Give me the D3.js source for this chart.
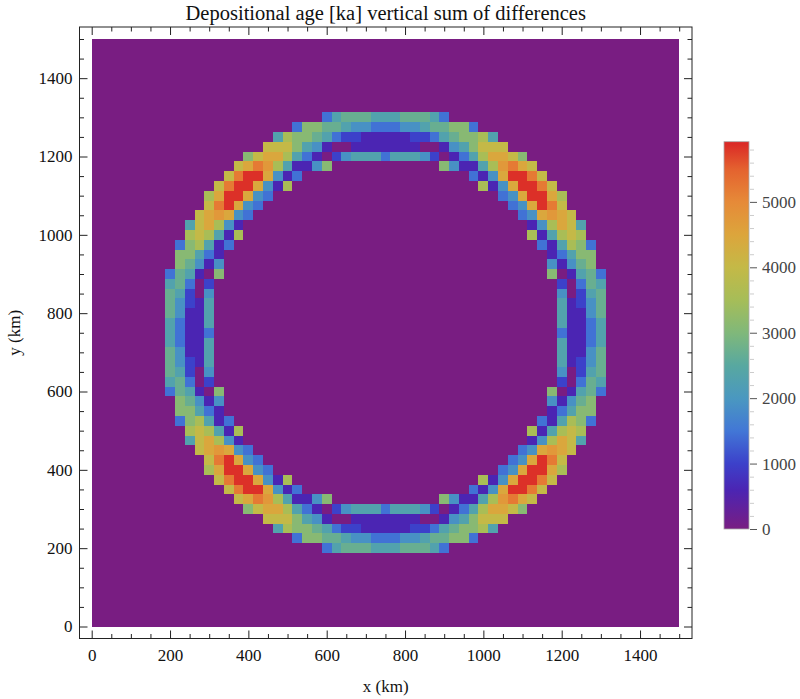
<!DOCTYPE html>
<html>
<head>
<meta charset="utf-8">
<script src="https://cdn.jsdelivr.net/npm/d3@7/dist/d3.min.js"></script>
<style>
  html, body { margin: 0; padding: 0; background: #fff; }
  svg { display: block; }
  text { font-family: "Liberation Serif", "Times New Roman", Times, serif; }
</style>
</head>
<body>
<svg id="chart" width="800" height="699"></svg>
<script>
// ---------------- data ----------------
const chartTitle = "Depositional age [ka] vertical sum of differences";
const xLabel = "x (km)";
const yLabel = "y (km)";
const xTickValues = [0, 200, 400, 600, 800, 1000, 1200, 1400];
const yTickValues = [0, 200, 400, 600, 800, 1000, 1200, 1400];
const colorTickValues = [0, 1000, 2000, 3000, 4000, 5000];
const extentKm = [0, 1500];
const nodeSpacingKm = 25;      // grid nodes every 25 km, 0..1500
const nodeCount = 61;
const ageMaxKa = 5920;

// value classes used in the rows below (ka)
const ageCodes      = [".", "1", "2", "3", "4", "5", "6", "7", "8", "9", "a", "b", "c", "d"];
const ageCodeValues = [0, 600, 1000, 1450, 1900, 2300, 2700, 3100, 3550, 4000, 4450, 4750, 5200, 5850];

// [row node index j, [first column node index i, codes], ...]; unlisted nodes are 0
const ageRows = [
  [52, [24, "3566655566653"]],
  [51, [21, "3776654433344566773"]],
  [50, [19, "58776532211111223567785"]],
  [49, [18, "9997541..1111111..1457999"]],
  [48, [16, "79aa8531.24555355542.1358aa97"]],
  [47, [15, "9acb851147"], [36, "741158bca9"]],
  [46, [14, "9cdda413"], [39, "314addc9"]],
  [45, [13, "9cdda418"], [40, "814addc9"]],
  [44, [12, "8adda43"], [42, "34adda8"]],
  [43, [12, "9cda43"], [43, "34adc9"]],
  [42, [11, "9aba43"], [44, "34aba9"]],
  [41, [10, "59a841"], [45, "148a95"]],
  [40, [10, "898518"], [45, "815898"]],
  [39, [9, "378513"], [46, "315873"]],
  [38, [9, "77531"], [47, "13577"]],
  [37, [9, "76414"], [47, "41467"]],
  [36, [8, "3651.7"], [47, "7.1563"]],
  [35, [8, "563.2"], [48, "2.365"]],
  [34, [8, "652.4"], [48, "4.256"]],
  [33, [8, "64215"], [48, "51246"]],
  [32, [8, "64115"], [48, "51146"]],
  [31, [8, "53115"], [48, "51135"]],
  [30, [8, "53113"], [48, "31135"]],
  [29, [8, "53115"], [48, "51135"]],
  [28, [8, "64115"], [48, "51146"]],
  [27, [8, "64215"], [48, "51246"]],
  [26, [8, "652.4"], [48, "4.256"]],
  [25, [8, "563.2"], [48, "2.365"]],
  [24, [8, "3651.7"], [47, "7.1563"]],
  [23, [9, "76414"], [47, "41467"]],
  [22, [9, "77531"], [47, "13577"]],
  [21, [9, "378513"], [46, "315873"]],
  [20, [10, "898518"], [45, "815898"]],
  [19, [10, "59a841"], [45, "148a95"]],
  [18, [11, "9aba43"], [44, "34aba9"]],
  [17, [12, "9cda43"], [43, "34adc9"]],
  [16, [12, "8adda43"], [42, "34adda8"]],
  [15, [13, "9cdda418"], [40, "814addc9"]],
  [14, [14, "9cdda413"], [39, "314addc9"]],
  [13, [15, "9acb851147"], [36, "741158bca9"]],
  [12, [16, "79aa8531.24555355542.1358aa97"]],
  [11, [18, "9997541..1111111..1457999"]],
  [10, [19, "58776532211111223567785"]],
  [9,  [21, "3776654433344566773"]],
  [8,  [24, "3566655566653"]]
];

// colour ramp (ka -> colour)
const rampValues = [0, 600, 1000, 1500, 2000, 2500, 3000, 3500, 4000, 4500, 5000, 5500, 5920];
const rampColors = ["#791d82", "#4b25b3", "#3c41ca", "#4277d6", "#4a98c0", "#58a8a0", "#80b87a",
                    "#a6bd58", "#c4b947", "#dca53c", "#e68a38", "#e4622f", "#da2626"];

// ---------------- layout ----------------
const svg = d3.select("#chart");
const frame = { left: 79.5, right: 692, top: 27, bottom: 638.5 };
const plot = { left: 91.7, right: 679.2, top: 39, bottom: 626.5 };
const bar = { left: 724, width: 25, top: 141.7, bottom: 529 };

const x = d3.scaleLinear().domain(extentKm).range([plot.left, plot.right]);
const y = d3.scaleLinear().domain(extentKm).range([plot.bottom, plot.top]);
const color = d3.scaleLinear().domain(rampValues).range(rampColors).interpolate(d3.interpolateRgb).clamp(true);

// ---------------- grid ----------------
const codeValue = new Map(ageCodes.map((c, k) => [c, ageCodeValues[k]]));
const grid = [];
for (let j = 0; j < nodeCount; j++)
  for (let i = 0; i < nodeCount; i++) grid.push({ i, j, v: 0 });
ageRows.forEach(([j, ...segments]) => {
  segments.forEach(([start, codes]) => {
    [...codes].forEach((c, k) => { grid[j * nodeCount + start + k].v = codeValue.get(c); });
  });
});

const half = nodeSpacingKm / 2;
const lo = v => Math.max(extentKm[0], v - half);
const hi = v => Math.min(extentKm[1], v + half);

svg.append("g")
  .attr("shape-rendering", "crispEdges")
  .selectAll("rect")
  .data(grid)
  .join("rect")
  .attr("x", d => x(lo(d.i * nodeSpacingKm)))
  .attr("width", d => x(hi(d.i * nodeSpacingKm)) - x(lo(d.i * nodeSpacingKm)))
  .attr("y", d => y(hi(d.j * nodeSpacingKm)))
  .attr("height", d => y(lo(d.j * nodeSpacingKm)) - y(hi(d.j * nodeSpacingKm)))
  .attr("fill", d => color(d.v));

// ---------------- frame & ticks ----------------
const minorKm = d3.range(0, 1501, 50).filter(v => v % 200 !== 0);
const majorLen = 8, minorLen = 4.5;

function styleAxis(g) {
  g.select(".domain").remove();
  g.selectAll(".tick line").attr("stroke", "#222").attr("stroke-width", 1);
  g.selectAll(".tick text").attr("fill", "#111").style("font-size", "17px")
    .style("font-family", "'Liberation Serif', 'Times New Roman', serif");
}

// bottom
svg.append("g").attr("transform", `translate(0,${frame.bottom})`)
  .call(d3.axisBottom(x).tickValues(xTickValues).tickSize(-majorLen).tickPadding(10).tickFormat(d3.format("d")))
  .call(styleAxis);
svg.append("g").attr("transform", `translate(0,${frame.bottom})`)
  .call(d3.axisBottom(x).tickValues(minorKm).tickSize(-minorLen).tickFormat(""))
  .call(styleAxis);
// top
svg.append("g").attr("transform", `translate(0,${frame.top})`)
  .call(d3.axisTop(x).tickValues(xTickValues).tickSize(-majorLen).tickFormat(""))
  .call(styleAxis);
svg.append("g").attr("transform", `translate(0,${frame.top})`)
  .call(d3.axisTop(x).tickValues(minorKm).tickSize(-minorLen).tickFormat(""))
  .call(styleAxis);
// left
svg.append("g").attr("transform", `translate(${frame.left},0)`)
  .call(d3.axisLeft(y).tickValues(yTickValues).tickSize(-majorLen).tickPadding(7).tickFormat(d3.format("d")))
  .call(styleAxis);
svg.append("g").attr("transform", `translate(${frame.left},0)`)
  .call(d3.axisLeft(y).tickValues(minorKm).tickSize(-minorLen).tickFormat(""))
  .call(styleAxis);
// right
svg.append("g").attr("transform", `translate(${frame.right},0)`)
  .call(d3.axisRight(y).tickValues(yTickValues).tickSize(-majorLen).tickFormat(""))
  .call(styleAxis);
svg.append("g").attr("transform", `translate(${frame.right},0)`)
  .call(d3.axisRight(y).tickValues(minorKm).tickSize(-minorLen).tickFormat(""))
  .call(styleAxis);

svg.append("rect")
  .attr("x", frame.left).attr("y", frame.top)
  .attr("width", frame.right - frame.left).attr("height", frame.bottom - frame.top)
  .attr("fill", "none").attr("stroke", "#222").attr("stroke-width", 1);

// ---------------- titles ----------------
svg.append("text")
  .attr("x", (frame.left + frame.right) / 2).attr("y", 20)
  .attr("text-anchor", "middle").style("font-size", "20.5px").attr("fill", "#111")
  .text(chartTitle);

svg.append("text")
  .attr("x", (frame.left + frame.right) / 2).attr("y", 692)
  .attr("text-anchor", "middle").style("font-size", "17px").attr("fill", "#111")
  .text(xLabel);

svg.append("text")
  .attr("transform", `translate(20,${(frame.top + frame.bottom) / 2}) rotate(-90)`)
  .attr("text-anchor", "middle").style("font-size", "17px").attr("fill", "#111")
  .text(yLabel);

// ---------------- colour bar ----------------
const cy = d3.scaleLinear().domain([0, ageMaxKa]).range([bar.bottom, bar.top]);
const grad = svg.append("defs").append("linearGradient")
  .attr("id", "ageRamp").attr("x1", 0).attr("y1", 1).attr("x2", 0).attr("y2", 0);
grad.selectAll("stop").data(rampValues).join("stop")
  .attr("offset", d => d / ageMaxKa)
  .attr("stop-color", d => color(d));

svg.append("rect")
  .attr("x", bar.left).attr("y", bar.top)
  .attr("width", bar.width).attr("height", bar.bottom - bar.top)
  .attr("fill", "url(#ageRamp)").attr("stroke", "#aaa").attr("stroke-width", 0.8);

const barMinor = d3.range(0, ageMaxKa, 200).filter(v => v % 1000 !== 0);
const barAxisX = bar.left + bar.width + 1;
svg.append("g").attr("transform", `translate(${barAxisX},0)`)
  .call(d3.axisRight(cy).tickValues(barMinor).tickSize(4).tickFormat(""))
  .call(g => { g.select(".domain").remove(); g.selectAll(".tick line").attr("stroke", "#ccc"); });
svg.append("g").attr("transform", `translate(${barAxisX},0)`)
  .call(d3.axisRight(cy).tickValues(colorTickValues).tickSize(7).tickPadding(5).tickFormat(d3.format("d")))
  .call(g => {
    g.select(".domain").remove();
    g.selectAll(".tick line").attr("stroke", "#555");
    g.selectAll(".tick text").attr("fill", "#444").style("font-size", "17px")
      .style("font-family", "'Liberation Serif', 'Times New Roman', serif");
  });
</script>
</body>
</html>
